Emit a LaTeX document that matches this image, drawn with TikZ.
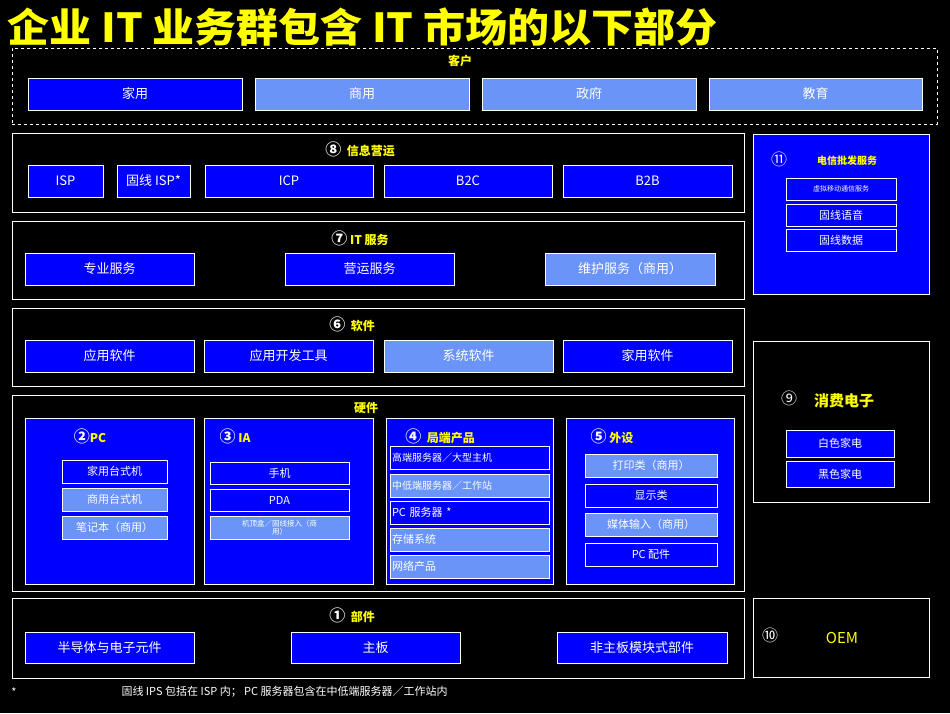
\documentclass[tikz,border=0pt]{standalone}
\usepackage{fontspec}
\setmainfont{Noto Sans CJK SC}
\newfontfamily\symfont{Noto Sans CJK SC}
\definecolor{itblue}{HTML}{0000FF}
\definecolor{itlight}{HTML}{6A94F8}
\definecolor{ityellow}{HTML}{FFFF00}
\tikzset{
  dk/.style={fill=itblue, draw=white, text=white, inner sep=0pt, font=\fontsize{13}{15}\selectfont},
  lt/.style={dk, fill=itlight},
  sm/.style={font=\fontsize{11}{13}\selectfont},
  panel/.style={draw=white, thick, inner sep=0pt},
  head/.style={text=ityellow, font=\bfseries\fontsize{12}{14}\selectfont},
  num/.style={text=white, font=\symfont\fontsize{16}{18}\selectfont}
}
\newcommand\circnum[1]{{\symfont\fontsize{16}{18}\selectfont\color{white}#1}}
% box from its corners in pixels
\newcommand\cell[7]{\node[#6, minimum width={(#4-#2)*1pt}, minimum height={(#5-#3)*1pt}]
  (#1) at ({(#2+#4)/2},{(#3+#5)/2}) {#7};}
\begin{document}
\begin{tikzpicture}[x=1pt, y=-1pt]
  \fill[black] (0,0) rectangle (950,713);
  \node[anchor=west, text=ityellow, font=\bfseries\fontsize{40}{42}\selectfont, xscale=1.05] (title) at (4,27) {企业 IT 业务群包含 IT 市场的以下部分};

  % customers
  \cell{cust}{12}{48}{937}{124}{panel, dashed}{}
  \node[head] (custlbl) at (460,61) {客户};
  \cell{home}{28}{78}{242}{110}{dk}{家用}
  \cell{biz}{255}{78}{469}{110}{lt}{商用}
  \cell{gov}{482}{78}{696}{110}{lt}{政府}
  \cell{edu}{709}{78}{922}{110}{lt}{教育}

  % information operation
  \cell{info}{12}{133}{744}{212}{panel}{}
  \node[head] (infolbl) at (360,149) {\circnum{⑧}\ \ 信息营运};
  \cell{isp}{28}{165}{103}{197}{dk}{ISP}
  \cell{fisp}{117}{165}{190}{197}{dk}{固线 ISP*}
  \cell{icp}{205}{165}{373}{197}{dk}{ICP}
  \cell{btc}{384}{165}{552}{197}{dk}{B2C}
  \cell{btb}{563}{165}{732}{197}{dk}{B2B}

  % IT services
  \cell{serv}{12}{221}{744}{299}{panel}{}
  \node[head] (servlbl) at (360,238) {\circnum{⑦}\ IT 服务};
  \cell{prof}{25}{253}{194}{285}{dk}{专业服务}
  \cell{oper}{285}{253}{454}{285}{dk}{营运服务}
  \cell{maint}{545}{253}{715}{285}{lt}{维护服务（商用）}

  % software
  \cell{soft}{12}{308}{744}{386}{panel}{}
  \node[head] (softlbl) at (352,324) {\circnum{⑥}\ \ 软件};
  \cell{app}{25}{340}{194}{372}{dk}{应用软件}
  \cell{dev}{204}{340}{373}{372}{dk}{应用开发工具}
  \cell{sys}{384}{340}{553}{372}{lt}{系统软件}
  \cell{hsoft}{563}{340}{732}{372}{dk}{家用软件}

  % hardware
  \cell{hard}{12}{395}{744}{591}{panel}{}
  \node[head] (hardlbl) at (366,408) {硬件};
  \cell{pc}{25}{418}{194}{584}{dk}{}
  \cell{ia}{204}{418}{373}{584}{dk}{}
  \cell{srv}{386}{418}{553}{584}{dk}{}
  \cell{peri}{566}{418}{734}{584}{dk}{}
  \node[head] (pclbl) at (90,436) {\circnum{②}PC};
  \node[head] (ialbl) at (235,436) {\circnum{③}\ IA};
  \node[head] (srvlbl) at (440,436) {\circnum{④}\ \ 局端产品};
  \node[head] (perilbl) at (612,436) {\circnum{⑤}\ 外设};
  \cell{desk}{62}{460}{167}{483}{dk, sm}{家用台式机}
  \cell{bdesk}{62}{488}{167}{511}{lt, sm}{商用台式机}
  \cell{note}{62}{516}{167}{539}{lt, sm}{笔记本（商用）}
  \cell{phone}{210}{462}{349}{484}{dk, sm}{手机}
  \cell{pda}{210}{489}{349}{511}{dk, sm}{PDA}
  \cell{stb}{210}{516}{349}{539}{lt, font=\fontsize{7.5}{10}\selectfont, text width=130pt, align=center}{机顶盒／固线接入（商\\[-2pt]用）}
  \cell{high}{390}{446}{549}{469}{dk, font=\fontsize{10}{12}\selectfont, align=left, text width=155pt}{高端服务器／大型主机}
  \cell{mid}{390}{474}{549}{497}{lt, font=\fontsize{10}{12}\selectfont, align=left, text width=155pt}{中低端服务器／工作站}
  \cell{pcs}{390}{501}{549}{524}{dk, sm, align=left, text width=155pt}{PC 服务器 *}
  \cell{stor}{390}{528}{549}{551}{lt, sm, align=left, text width=155pt}{存储系统}
  \cell{net}{390}{555}{549}{578}{lt, sm, align=left, text width=155pt}{网络产品}
  \cell{print}{585}{454}{717}{477}{lt, sm}{打印类（商用）}
  \cell{disp}{585}{484}{717}{507}{dk, sm}{显示类}
  \cell{media}{585}{513}{717}{536}{lt, sm}{媒体输入（商用）}
  \cell{acc}{585}{543}{717}{566}{dk, sm}{PC 配件}

  % components
  \cell{comp}{12}{598}{744}{678}{panel}{}
  \node[head] (complbl) at (352,615) {\circnum{①}\ \ 部件};
  \cell{semi}{25}{632}{194}{663}{dk}{半导体与电子元件}
  \cell{board}{291}{632}{460}{663}{dk}{主板}
  \cell{mod}{557}{632}{727}{663}{dk}{非主板模块式部件}

  % right column
  \cell{tel}{753}{134}{929}{294}{dk}{}
  \node[head, font=\bfseries\fontsize{10}{12}\selectfont] (tellbl) at (847,161) {电信批发服务};
  \node[num] (telnum) at (779,159) {⑪};
  \cell{mvno}{786}{178}{896}{200}{dk, font=\fontsize{7}{9}\selectfont}{虚拟移动通信服务}
  \cell{voice}{786}{204}{896}{226}{dk, sm}{固线语音}
  \cell{data}{786}{229}{896}{251}{dk, sm}{固线数据}

  \cell{cons}{753}{341}{929}{502}{panel}{}
  \node[head, font=\bfseries\fontsize{15}{17}\selectfont] (conslbl) at (844,401) {消费电子};
  \node[num] (consnum) at (789,398) {⑨};
  \cell{white}{786}{430}{894}{457}{dk, sm}{白色家电}
  \cell{black}{786}{461}{894}{487}{dk, sm}{黑色家电}

  \cell{oem}{753}{598}{929}{677}{panel}{}
  \node[num] (oemnum) at (770,635) {⑩};
  \node[head, font=\fontsize{15}{17}\selectfont] (oemlbl) at (842,638) {OEM};

  \node[text=white, font=\fontsize{11}{13}\selectfont] (star) at (14,692) {*};
  \node[anchor=west, text=white, font=\fontsize{11}{13}\selectfont] (foot) at (118,692) {固线 IPS 包括在 ISP 内； PC 服务器包含在中低端服务器／工作站内};
\end{tikzpicture}
\end{document}
